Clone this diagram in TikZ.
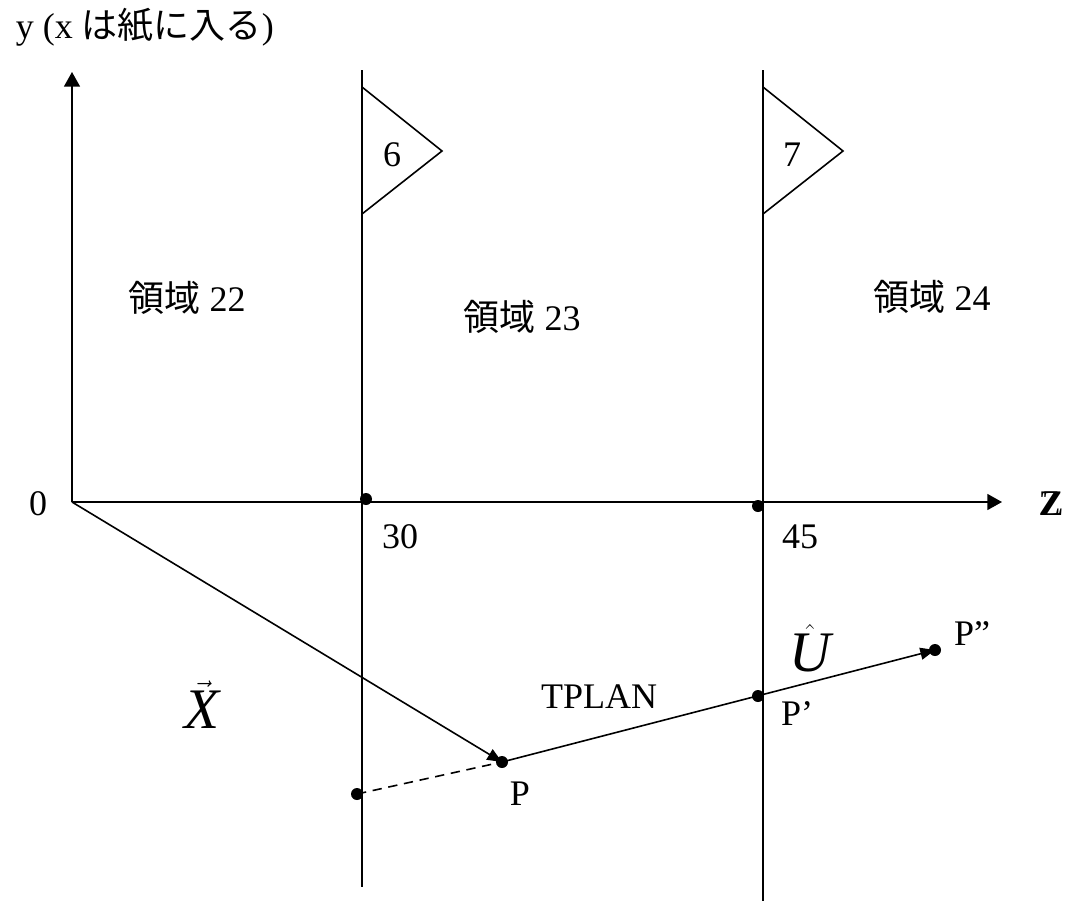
\documentclass[tikz,border=0pt]{standalone}
\usepackage{amsmath}
\usepackage{amssymb}
\usepackage{fontspec}
\setmainfont{Liberation Serif}
\newfontfamily\cjk{Noto Sans CJK JP}
\usetikzlibrary{arrows.meta}

\begin{document}
\begin{tikzpicture}[x=0.75pt, y=-0.75pt, line width=1.2pt,
    font=\fontsize{27}{32}\selectfont,
    dot/.style={circle, fill=black, inner sep=0pt, minimum size=9pt},
    axis/.style={-{Triangle[length=11pt, width=12pt]}},
    vec/.style={-{Triangle[length=11pt, width=9pt]}},
    big/.style={font=\fontsize{43}{50}\selectfont}]
    \useasboundingbox (0,0) rectangle (1068,901);

    % axes
    \coordinate (O) at (72,502);
    \coordinate (ytip) at (72,72);
    \coordinate (ztip) at (1002,502);
    \draw[axis] (O) -- (ytip);
    \draw[axis] (O) -- (ztip);

    % boundaries with flags
    \coordinate (b30top) at (362,70);
    \coordinate (b30bot) at (362,887);
    \coordinate (b45top) at (763,70);
    \coordinate (b45bot) at (763,901);
    \draw (b30top) -- (b30bot);
    \draw (b45top) -- (b45bot);
    \draw (362,87) -- (442,151) -- (362,214);
    \draw (763,87) -- (843,151) -- (763,214);

    % points
    \node[dot] (d30) at (366,499) {};
    \node[dot] (d45) at (758,506) {};
    \node[dot] (P) at (502,762) {};
    \node[dot] (Q) at (357,794) {};
    \node[dot] (P1) at (758,696) {};
    \node[dot] (P2) at (935,650) {};

    \draw[vec] (O) -- (P.center);
    \draw[vec] (P.center) -- (P2.center);
    \draw[dash pattern=on 7pt off 5pt] (Q.center) -- (P.center);

    % labels
    \node[anchor=base west, inner sep=0pt] (title) at (15,38) {y (x {\cjk は紙に入る})};
    \node (zero) at (38,504) {0};
    \node (zlab) at (1051,504) {\rlap{Z}\hspace{2.2pt}Z};
    \node (n30) at (400,537) {30};
    \node (n45) at (800,537) {45};
    \node (r22) at (187,298) {{\cjk 領域} 22};
    \node (r23) at (522,317) {{\cjk 領域} 23};
    \node (r24) at (932,297) {{\cjk 領域} 24};
    \node (f6) at (392,155) {6};
    \node (f7) at (792,155) {7};
    \node[big, anchor=base] (Xlab) at (202,728) {$\vec{\textit{X}}$};
    \node[anchor=base] (tplan) at (599,708) {TPLAN};
    \node[big, anchor=base] (Ulab) at (810,671) {$\hat{\textit{U}}$};
    \node[anchor=base] (Plab) at (520,805) {P};
    \node[anchor=base] (P1lab) at (797,725) {P’};
    \node[anchor=base] (P2lab) at (972,645) {P”};
\end{tikzpicture}
\end{document}
